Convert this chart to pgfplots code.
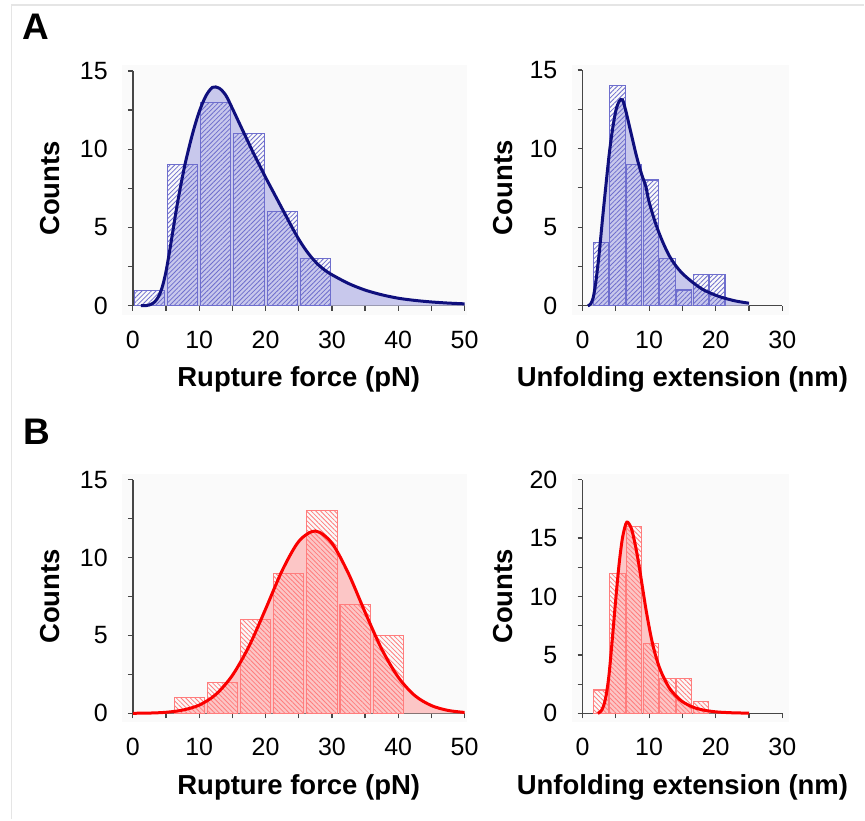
\documentclass[border=0pt]{standalone}
\usepackage{fontspec}
\setmainfont{Liberation Sans}
\usepackage{pgfplots}
\pgfplotsset{compat=1.18}
\usepackage{pgfplotstable}
\usetikzlibrary{patterns.meta}

\definecolor{axisgray}{RGB}{70,70,70}
\definecolor{lineA}{RGB}{15,15,125}
\definecolor{edgeA}{RGB}{110,110,205}
\definecolor{fillA}{RGB}{200,200,236}
\definecolor{lineB}{RGB}{250,0,0}
\definecolor{edgeB}{RGB}{255,125,125}
\definecolor{fillB}{RGB}{252,198,198}

% fitted curves
\pgfplotstableread{
x y
1.2 0
2 0.01
2.5 0.05
3 0.15
3.5 0.35
4 0.7
4.5 1.3
5 2.2
5.5 3.4
6 4.7
6.5 6.0
7 7.2
7.5 8.3
8 9.3
9 11.0
10 12.4
11 13.4
12 13.95
13 13.9
14 13.45
15 12.6
16 11.7
17 10.8
18 9.9
19 9.05
20 8.2
21 7.4
22 6.6
23 5.8
24 5.0
25 4.25
26 3.6
27 3.05
28 2.6
29 2.25
30 1.98
32.5 1.42
35 1.0
37.5 0.7
40 0.48
42.5 0.34
45 0.24
47.5 0.17
50 0.12
}\curveAforce

\pgfplotstableread{
x y
0.8 0
1.2 0.1
1.6 0.5
2 1.5
2.5 3.3
3 5.5
3.5 7.6
4 9.6
4.5 11.2
5 12.4
5.5 13.0
6 13.1
6.5 12.4
7 11.5
7.5 10.6
8 9.7
8.5 8.9
9 8.2
9.5 7.6
10 6.6
11 5.2
12 4.1
13 3.2
14 2.55
15 2.05
16.5 1.5
18 1.05
19.5 0.75
21 0.52
23 0.3
25 0.16
}\curveAext

\pgfplotstableread{
x y
0 0.006
2.5 0.02
5 0.07
7.5 0.21
10 0.53
12.5 1.21
15 2.44
17.5 4.30
20 6.69
22.5 9.16
25 11.03
27.5 11.70
30 10.92
32.5 8.97
35 6.49
37.5 4.13
40 2.32
42.5 1.14
45 0.50
47.5 0.19
50 0.06
}\curveBforce

\pgfplotstableread{
x y
2.3 0
2.8 0.2
3.2 0.7
3.6 1.7
4 3.4
4.5 6.5
5 9.8
5.5 12.8
6 15.0
6.5 16.2
6.8 16.35
7.2 16.0
7.5 15.5
8 14.2
8.5 12.6
9 10.8
9.5 9.0
10 7.4
10.5 6.0
11 4.9
11.5 4.0
12 3.3
13 2.2
14 1.5
15 1.0
16.5 0.55
18 0.3
20 0.13
22.5 0.05
25 0.02
}\curveBext

\pgfplotsset{
  hist/.style={
    scale only axis,
    axis lines=left,
    axis line style={-, draw=axisgray, line width=1.3pt},
    enlargelimits=false,
    xmin=0, ymin=0,
    tick align=outside,
    major tick length=5pt, minor tick length=5pt,
    tick style={draw=axisgray, line width=1.2pt},
    minor tick num=1,
    /pgf/number format/assume math mode=true,
    tick label style={font=\fontsize{25}{30}\selectfont},
    xticklabel style={anchor=north, inner sep=0pt, yshift=-20pt},
    yticklabel style={anchor=east, inner sep=0pt, xshift=-20pt},
    label style={font=\bfseries\fontsize{27.5}{32}\selectfont},
    xlabel style={anchor=center},
    ylabel style={anchor=center, rotate=0},
    clip=false,
  },
  barsA/.style={ybar, bar shift=0pt, draw=edgeA, line width=1.1pt,
    pattern={Lines[angle=45,distance=3.3pt,line width=0.8pt]}, pattern color=edgeA},
  barsB/.style={ybar, bar shift=0pt, draw=edgeB, line width=1.1pt,
    pattern={Lines[angle=-45,distance=3.3pt,line width=0.8pt]}, pattern color=edgeB},
}

\begin{document}
\begin{tikzpicture}
\path (0pt,0pt) rectangle (865pt,820pt);
\draw[black!10, line width=1.5pt] (11.5pt,0pt) -- (11.5pt,815pt) -- (865pt,815pt);
\fill[black!2] (122pt,505pt) rectangle (467pt,755pt);
\fill[black!2] (572pt,505pt) rectangle (790pt,755pt);
\fill[black!2] (122pt,97pt) rectangle (467pt,346pt);
\fill[black!2] (572pt,97pt) rectangle (790pt,346pt);

\node[anchor=base west, inner sep=0pt, font=\bfseries\fontsize{37}{40}\selectfont] at (22pt,780pt) {A};
\node[anchor=base west, inner sep=0pt, font=\bfseries\fontsize{37}{40}\selectfont] at (23pt,375pt) {B};

% A, rupture force
\begin{axis}[hist, at={(133pt,514pt)}, anchor=south west,
  width=332pt, height=235pt, xmax=50, ymax=15,
  xtick={0,10,...,50}, ytick={0,5,10,15},
  xlabel={Rupture force (pN)}, ylabel={Counts},
  xlabel style={at={(axis description cs:0.5,-0.315)}},
  ylabel style={at={(axis description cs:-0.25,0.5)}}]
\addplot[draw=none, fill=fillA, smooth] table {\curveAforce} \closedcycle;
\addplot[barsA, bar width=4.55] coordinates {
  (2.5,1) (7.5,9) (12.5,13) (17.5,11) (22.5,6) (27.5,3)};
\addplot[lineA, line width=3pt, smooth] table {\curveAforce};
\end{axis}

% A, unfolding extension
\begin{axis}[hist, at={(583pt,514pt)}, anchor=south west,
  width=200pt, height=236pt, xmax=30, ymax=15,
  xtick={0,10,20,30}, ytick={0,5,10,15},
  xlabel={Unfolding extension (nm)}, ylabel={Counts},
  xlabel style={at={(axis description cs:0.5,-0.314)}},
  ylabel style={at={(axis description cs:-0.4,0.5)}}]
\addplot[draw=none, fill=fillA, smooth] table {\curveAext} \closedcycle;
\addplot[barsA, bar width=2.3] coordinates {
  (2.75,4) (5.25,14) (7.75,9) (10.25,8) (12.75,3) (15.25,1) (17.75,2) (20.25,2)};
\addplot[lineA, line width=3pt, smooth] table {\curveAext};
\end{axis}

% B, rupture force
\begin{axis}[hist, at={(133pt,106pt)}, anchor=south west,
  width=332pt, height=234pt, xmax=50, ymax=15,
  xtick={0,10,...,50}, ytick={0,5,10,15},
  xlabel={Rupture force (pN)}, ylabel={Counts},
  xlabel style={at={(axis description cs:0.5,-0.316)}},
  ylabel style={at={(axis description cs:-0.25,0.5)}}]
\addplot[draw=none, fill=fillB, smooth] table {\curveBforce} \closedcycle;
\addplot[barsB, bar width=4.55] coordinates {
  (8.5,1) (13.5,2) (18.5,6) (23.5,9) (28.5,13) (33.5,7) (38.5,5)};
\addplot[lineB, line width=3pt, smooth] table {\curveBforce};
\end{axis}

% B, unfolding extension
\begin{axis}[hist, at={(583pt,106pt)}, anchor=south west,
  width=200pt, height=234pt, xmax=30, ymax=20,
  xtick={0,10,20,30}, ytick={0,5,10,15,20},
  xlabel={Unfolding extension (nm)}, ylabel={Counts},
  xlabel style={at={(axis description cs:0.5,-0.316)}},
  ylabel style={at={(axis description cs:-0.4,0.5)}}]
\addplot[draw=none, fill=fillB, smooth] table {\curveBext} \closedcycle;
\addplot[barsB, bar width=2.3] coordinates {
  (2.75,2) (5.25,12) (7.75,16) (10.25,6) (12.75,3) (15.25,3) (17.75,1)};
\addplot[lineB, line width=3pt, smooth] table {\curveBext};
\end{axis}
\end{tikzpicture}
\end{document}
